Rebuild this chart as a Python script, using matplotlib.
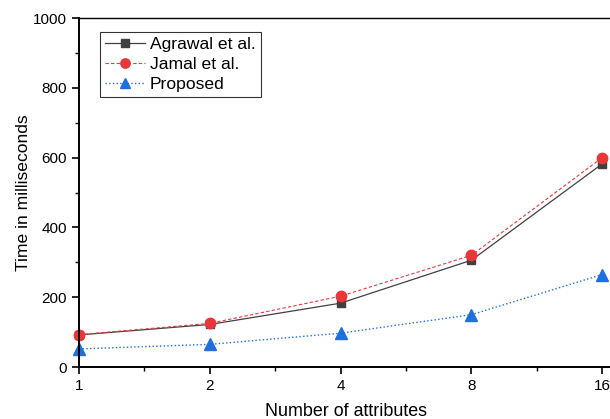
import matplotlib
matplotlib.use("Agg")
import matplotlib.pyplot as plt
from matplotlib.ticker import FixedLocator, NullFormatter

plt.rcParams['font.family'] = ['Liberation Sans', 'DejaVu Sans']

# datos
attributes = [1, 2, 4, 8, 16]
agrawal = [92, 122, 183, 306, 582]
jamal = [93, 125, 203, 320, 600]
proposed = [52, 65, 97, 150, 265]

fig = plt.figure(figsize=(6.10, 4.19), dpi=100)
ax = fig.add_axes([0.1295, 0.124, 0.874, 0.833])

ax.plot(attributes, agrawal, color='#404040', linestyle='-', linewidth=0.9,
        marker='s', markersize=6, label='Agrawal et al.', clip_on=False)
ax.plot(attributes, jamal, color='#e8373a', linestyle='--', linewidth=0.8,
        dashes=(3, 2), marker='o', markersize=7.5, label='Jamal et al.', clip_on=False)
ax.plot(attributes, proposed, color='#1f6fdc', linestyle=':', linewidth=1.0,
        marker='^', markersize=8, label='Proposed', clip_on=False)

ax.set_xscale('log', base=2)
# el eje sigue un poco despues del 16
ax.set_xlim(1, 16 * 2 ** (10 / 131))
ax.set_ylim(0, 1000)
ax.set_xticks(attributes)
ax.set_xticklabels([str(a) for a in attributes])
ax.xaxis.set_minor_locator(FixedLocator([2 ** (i + 0.5) for i in range(4)]))
ax.xaxis.set_minor_formatter(NullFormatter())
ax.set_yticks(range(0, 1001, 200))
ax.yaxis.set_minor_locator(FixedLocator(range(100, 1000, 200)))

ax.spines['right'].set_visible(False)
ax.spines['top'].set_linewidth(1.0)
for s in ['left', 'bottom']:
    ax.spines[s].set_linewidth(1.4)

ax.tick_params(which='major', direction='out', length=5, width=1.2, labelsize=11)
ax.tick_params(which='minor', direction='out', length=3, width=1.0)

ax.set_xlabel('Number of attributes', fontsize=12.9, labelpad=7)
ax.set_ylabel('Time in milliseconds', fontsize=12.6, labelpad=1.5)

leg = ax.legend(loc='upper left', bbox_to_anchor=(0.039, 0.96), fontsize=12.6,
                frameon=True, fancybox=False, edgecolor='black',
                handlelength=2.3, borderpad=0.3, labelspacing=0.25,
                handletextpad=0.25, borderaxespad=0, markerscale=0.9)
leg.get_frame().set_linewidth(0.8)

fig.savefig('out.png', dpi=100)
